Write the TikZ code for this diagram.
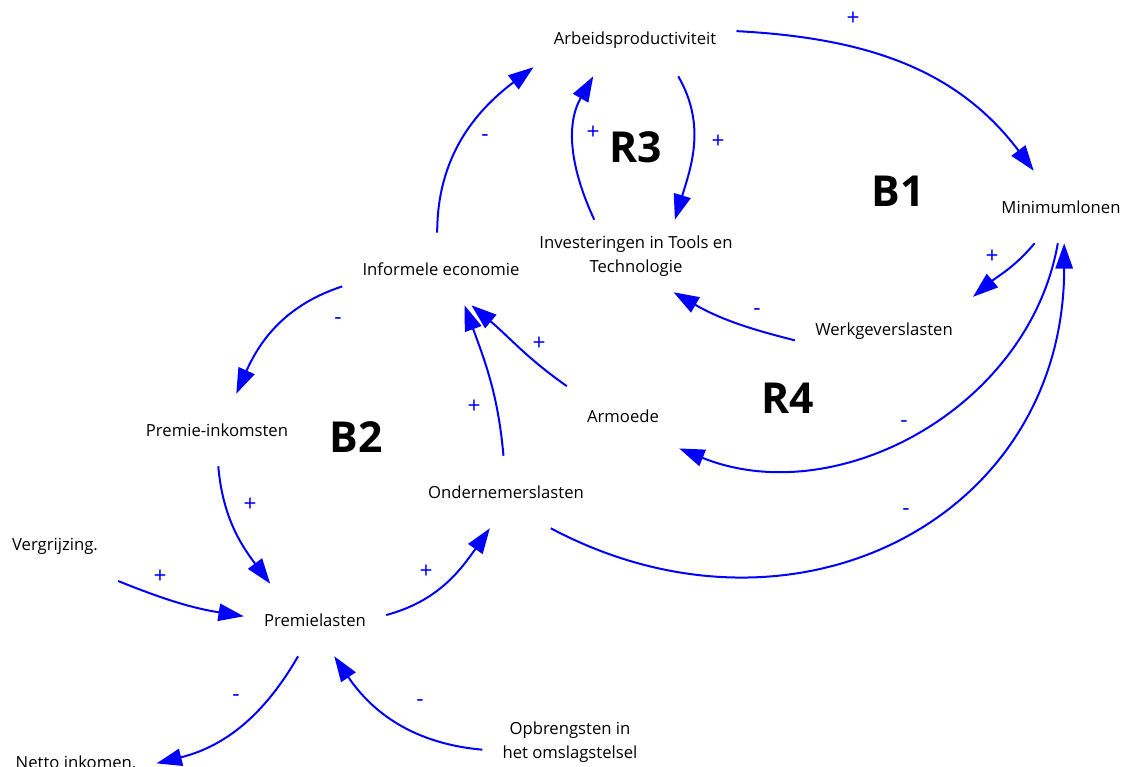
\documentclass[tikz,border=0pt]{standalone}
\usepackage{fontspec}
\setmainfont{Open Sans}
\usetikzlibrary{arrows.meta}

\tikzset{
    var/.style={rectangle, inner xsep=15pt, minimum height=54pt, align=center, font=\fontsize{12.5}{18}\selectfont},
    loopname/.style={font=\fontsize{32}{32}\selectfont\bfseries},
    sign/.style={text=blue, font=\fontsize{17}{17}\selectfont},
    link/.style={blue, line width=1.5pt, -{Triangle[length=19pt,width=13pt]}},
}

\begin{document}
\begin{tikzpicture}[x=0.75pt, y=0.75pt]
            \useasboundingbox (0,0) rectangle (1129,-767);
            % variables
            \node[var] (arb) at (635,-40) {Arbeidsproductiviteit};
            \node[var] (min) at (1061,-207) {Minimumlonen};
            \node[var] (inv) at (636,-256) {Investeringen in Tools en\\Technologie};
            \node[var] (inf) at (441,-269) {Informele economie};
            \node[var] (wgl) at (884,-331) {Werkgeverslasten};
            \node[var] (arm) at (623,-416) {Armoede};
            \node[var] (pik) at (217,-430) {Premie-inkomsten};
            \node[var] (ond) at (506,-492) {Ondernemerslasten};
            \node[var] (ver) at (55,-546) {Vergrijzing.};
            \node[var] (pml) at (315,-620) {Premielasten};
            \node[var] (net) at (76,-762) {Netto inkomen.};
            \node[var] (opb) at (570,-742) {Opbrengsten in\\het omslagstelsel};

            % loops
            \node[loopname] (r3) at (636,-147) {R3};
            \node[loopname] (b1) at (898,-191) {B1};
            \node[loopname] (r4) at (788,-398) {R4};
            \node[loopname] (b2) at (356,-437) {B2};

            % links
            \draw[link] (arb.5) to[out=-3, in=127] (min.127);
            \draw[link] (inf.96) to[out=90, in=-143] (arb.195);
            \draw[link] (inv.139) to[out=115, in=-120] (arb.221);
            \draw[link] (arb.-40) to[out=-60, in=73] (inv.43);
            \draw[link] (min.-126) to[out=-130, in=40] (wgl.21);
            \draw[link] (wgl.186) to[out=166, in=-30] (inv.-44);
            \draw[link] (min.-95) to[out=-100, in=-22] (arm.-30);
            \draw[link] (ond.-39) to[out=-28, in=-90, looseness=1.2] (min.-85);
            \draw[link] (arm.152) to[out=145, in=-40] (inf.-50);
            \draw[link] (ond.94) to[out=95, in=-70] (inf.-57);
            \draw[link] (inf.190) to[out=198, in=66] (pik.62);
            \draw[link] (pik.-88) to[out=-85, in=127] (pml.141);
            \draw[link] (ver.-29) to[out=-22, in=171] (pml.177);
            \draw[link] (pml.4) to[out=15, in=-125] (ond.-114);
            \draw[link] (pml.-115) to[out=-120, in=14] (net.-1);
            \draw[link] (opb.185) to[out=175, in=-56] (pml.-62);

            % polarities
            \node[sign] (s1) at (853,-19) {+};
            \node[sign] (s2) at (485,-138) {-};
            \node[sign] (s3) at (593,-133) {+};
            \node[sign] (s4) at (718,-142) {+};
            \node[sign] (s5) at (992,-257) {+};
            \node[sign] (s6) at (757,-312) {-};
            \node[sign] (s7) at (904,-424) {-};
            \node[sign] (s8) at (906,-512) {-};
            \node[sign] (s9) at (539,-344) {+};
            \node[sign] (s10) at (474,-407) {+};
            \node[sign] (s11) at (338,-321) {-};
            \node[sign] (s12) at (250,-505) {+};
            \node[sign] (s13) at (160,-577) {+};
            \node[sign] (s14) at (426,-572) {+};
            \node[sign] (s15) at (236,-698) {-};
            \node[sign] (s16) at (420,-703) {-};
        \end{tikzpicture}
\end{document}
